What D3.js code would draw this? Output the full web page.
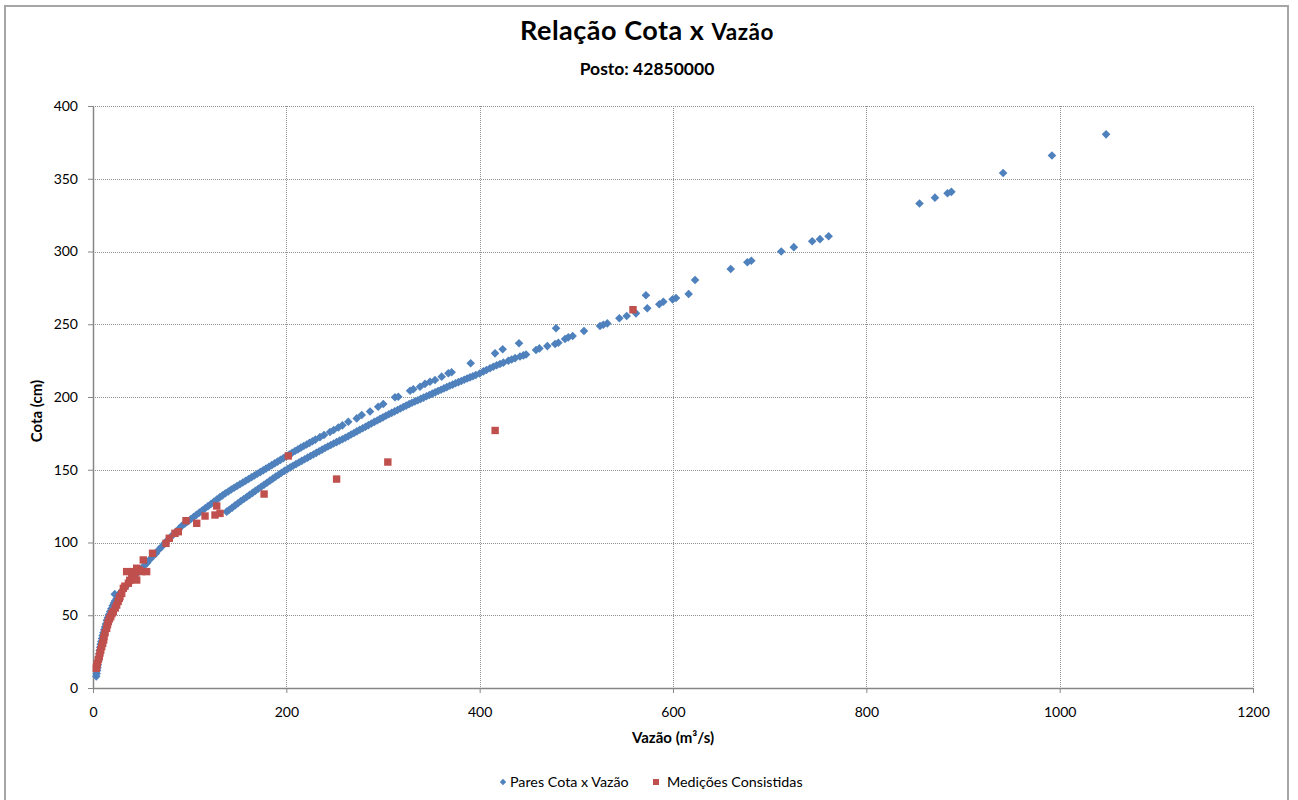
<!DOCTYPE html>
<html>
<head>
<meta charset="utf-8">
<script src="https://cdn.jsdelivr.net/npm/d3@7"></script>
<style>
  body { margin: 0; background: #fff; }
  svg { display: block; }
  text { font-family: Lato, "Open Sans", "DejaVu Sans", sans-serif; fill: #000; }
</style>
</head>
<body>
<svg id="chart" width="1298" height="800"></svg>
<script>
// Pares Cota x Vazão — ramo superior (vazão m³/s)
const paresSupVazao = [3.4,3.8,4.2,4.6,5,5.5,6,6.5,7,7.5,8,8.6,9.3,10,10.8,11.6,12.5,13.4,14.4,15.5,16.6,17.8,19,20.3,21.7,22.5,23,24.5,26,27.5,29,31,33,35,37,39.5,42,44.5,47,50,53,56,59,62,65,68,71,74,77,80,83,86,89,92,95,98,101,104,107,110,113,116,119,122,125,128,131,134,137,140,143,146,149,152,155,158,161,164,167,170,173,176,179,182,185,188,191,194,197,200,203,206,209,212,215,218,221,224,227,230,234.8,239,245.2,249,253.8,258,264.1,272.8,278,286.6,295,300.3,312.4,315.8,328,331.4,338.3,343.4,348.6,353.8,360.7,367.6,371,390.7,415.9,423.8,440.7,479,572,622.8];
// Pares Cota x Vazão — ramo superior (cota cm)
const paresSupCota = [8,10,12,14,16,18.5,21,23.5,26,28,30,32,34,36,38,40,42,44,46.5,48.5,50.5,52.5,54.5,56.5,58.5,64.5,60,61.5,63,64.5,66,67.5,69,70.5,72,74,76,78,80,82,84,86,88.5,90.5,92.5,95,97,99.5,101.5,103.5,105.5,107.5,109.5,111.5,113,114.5,116,117.5,119,120.5,122,123.5,125,126.5,128,129.5,131,132.4,133.8,135.1,136.4,137.6,138.8,140,141.2,142.4,143.6,144.8,146,147.2,148.4,149.6,150.8,152,153.2,154.4,155.6,156.8,158,159.3,160.5,161.7,162.9,164,165.2,166.3,167.4,168.5,169.6,170.7,172.4,173.9,175.9,177.3,179,180.5,183,185.3,187.6,190,193.3,195.2,199.8,200.2,204.3,205.3,207,209,210.5,211.7,214,216.3,217,223.2,230,232.8,236.9,247.2,269.9,280.4];

// Pares Cota x Vazão — ramo inferior (vazão m³/s)
const paresInfVazao = [138.3,141,144,147,150,153,156,159,162,165,168,171,174,177,180,183,186,189,192,195,198,201,204,207,210,213,216,219,222,225,228,231,234,237,240,243,246,249,252,255,258,261,264,267,270,273,276,279,282,285,288,291,294,297,300,303,306,309,312,315,318,321,324,327,330,333,336,339,342,345,348,351,354,357,360,363,366,369,372,375,378,381,384,387,390,393,396,400,403.8,407,410.7,414.1,417.6,421,424.5,429.7,433.1,436.6,441.7,445.2,448,458.3,461.8,470,478,481.4,488.3,491.7,496.2,507.9,524.5,527.9,532,544.5,552.1,561.7,573.4,585.8,590,599.6,603.1,616.2,659.7,676.9,681,712,725,744,752,761,855,871,884,888,941.5,992,1048];
// Pares Cota x Vazão — ramo inferior (cota cm)
const paresInfCota = [121.2,122.5,124,125.5,127,128.5,129.9,131.3,132.7,134.1,135.5,136.9,138.3,139.7,141.1,142.5,143.9,145.3,146.6,147.9,149.2,150.4,151.6,152.8,153.9,155,156.1,157.2,158.3,159.4,160.5,161.6,162.7,163.8,164.9,166,167,168,169,170,171,172,173,174.2,175.3,176.4,177.5,178.5,179.6,180.7,181.8,182.9,183.9,185,186,187.1,188.1,189.1,190.1,191.1,192.1,193.1,194.1,195.1,196,196.9,197.8,198.7,199.6,200.5,201.4,202.3,203.2,204.1,205,205.9,206.8,207.7,208.5,209.4,210.2,211,211.9,212.7,213.5,214.3,215.1,216.2,217.6,218.6,219.8,220.8,221.8,222.7,223.6,224.9,225.8,226.7,227.8,228.6,229.2,232.3,233.4,235,236.4,237.3,239.9,241,241.9,245.4,248.8,249.7,250.6,254.1,255.7,257.5,261,263.7,265.5,267.1,268,270.8,288,292.6,293.6,300,303,307,308.5,310.5,333,337,340,341,354,366,380.5];

// Medições Consistidas
const medicoesVazao = [3.4,3.8,4.5,5.5,6.5,7.2,8,9,10,11,11.4,12.5,14.1,15,15.9,17,18.3,19.5,21,23,24.5,26,27.2,27.9,29.7,31.4,33,34.8,36.6,38,40,41.7,43,45.2,45.2,48,50.3,52,55.5,61.6,75.5,78.9,84.8,88.3,96.2,107.3,115.9,126.2,128,131.4,177,202,252,305,416,558.6];
const medicoesCota = [13.5,15,17,19.5,21.5,24,26,28.5,30.7,33,35.3,38,41,43.5,45.6,47.5,49,51,52.4,55,57,59.5,61.6,62.8,65,68.5,70,80,72,74,76.5,80,78,74.2,82.3,81,80,88,80,92.6,99.4,102.9,106.3,107.4,115,113.2,118.2,118.9,125.1,120,133.3,159.5,143.6,155.3,177,260];

const xTicks = [0, 200, 400, 600, 800, 1000, 1200];
const yTicks = [0, 50, 100, 150, 200, 250, 300, 350, 400];

const blue = "#4F81BD";
const red = "#C0504D";

const svg = d3.select("#chart");
const plot = { left: 93, right: 1253, top: 106, bottom: 688 };

const x = d3.scaleLinear().domain([0, 1200]).range([plot.left, plot.right]);
const y = d3.scaleLinear().domain([0, 400]).range([plot.bottom, plot.top]);

// chart frame
svg.append("rect")
  .attr("x", 5).attr("y", 6).attr("width", 1283).attr("height", 800)
  .attr("fill", "#fff").attr("stroke", "#a6a6a6").attr("stroke-width", 2);

// titles
const title = svg.append("text")
  .attr("x", 647).attr("y", 40).attr("text-anchor", "middle")
  .style("font-weight", "bold").style("font-size", "27px").style("letter-spacing", "0.5px");
title.append("tspan").text("Relação Cota x ");
title.append("tspan").style("font-size", "22.5px").text("Vazão");

svg.append("text")
  .attr("x", 647).attr("y", 75).attr("text-anchor", "middle")
  .style("font-weight", "bold").style("font-size", "17.5px")
  .text("Posto: 42850000");

// gridlines
const grid = svg.append("g").attr("stroke", "#8f8f8f").attr("stroke-width", 1)
  .attr("stroke-dasharray", "1,1").attr("shape-rendering", "crispEdges");
grid.selectAll("line.gx").data(xTicks.filter(d => d > 0)).join("line")
  .attr("class", "gx")
  .attr("x1", d => Math.round(x(d)) + 0.5).attr("x2", d => Math.round(x(d)) + 0.5)
  .attr("y1", plot.top).attr("y2", plot.bottom);
grid.selectAll("line.gy").data(yTicks.filter(d => d > 0)).join("line")
  .attr("class", "gy")
  .attr("y1", d => Math.round(y(d)) + 0.5).attr("y2", d => Math.round(y(d)) + 0.5)
  .attr("x1", plot.left).attr("x2", plot.right);

// axes
const xAxis = svg.append("g")
  .attr("transform", `translate(0,${plot.bottom})`)
  .call(d3.axisBottom(x).tickValues(xTicks).tickSize(5).tickSizeOuter(0).tickPadding(14).tickFormat(d3.format("d")));
const yAxis = svg.append("g")
  .attr("transform", `translate(${plot.left},0)`)
  .call(d3.axisLeft(y).tickValues(yTicks).tickSize(5).tickSizeOuter(0).tickPadding(10).tickFormat(d3.format("d")));
[xAxis, yAxis].forEach(g => {
  g.select(".domain").attr("stroke", "#868686").attr("stroke-width", 1.5);
  g.selectAll(".tick line").attr("stroke", "#868686");
  g.selectAll(".tick text").style("font-size", "14px").style("font-family", "Lato, sans-serif").attr("fill", "#000");
});

// axis titles
svg.append("text")
  .attr("x", (plot.left + plot.right) / 2).attr("y", 743).attr("text-anchor", "middle")
  .style("font-weight", "bold").style("font-size", "15px")
  .text("Vazão (m³/s)");
svg.append("text")
  .attr("transform", `translate(42,${(plot.top + plot.bottom) / 2 + 14}) rotate(-90)`)
  .attr("text-anchor", "middle")
  .style("font-weight", "bold").style("font-size", "15px")
  .text("Cota (cm)");

// markers
const diamond = (cx, cy, r) => `M${cx},${cy - r}L${cx + r},${cy}L${cx},${cy + r}L${cx - r},${cy}Z`;

const paresData = paresSupVazao.map((q, i) => ({ q, h: paresSupCota[i] }))
  .concat(paresInfVazao.map((q, i) => ({ q, h: paresInfCota[i] })));
const medicoesData = medicoesVazao.map((q, i) => ({ q, h: medicoesCota[i] }));

svg.append("g").selectAll("path").data(paresData).join("path")
  .attr("d", d => diamond(x(d.q), y(d.h), 4.3))
  .attr("fill", blue);

svg.append("g").selectAll("rect").data(medicoesData).join("rect")
  .attr("x", d => x(d.q) - 3.7).attr("y", d => y(d.h) - 3.7)
  .attr("width", 7.4).attr("height", 7.4)
  .attr("fill", red);

// legend
const legend = svg.append("g").attr("transform", "translate(0,782)");
legend.append("path").attr("d", diamond(503, 0, 3.2)).attr("fill", blue);
legend.append("text").attr("x", 510).attr("y", 5).style("font-size", "14.3px").text("Pares Cota x Vazão");
legend.append("rect").attr("x", 653).attr("y", -3).attr("width", 6).attr("height", 6).attr("fill", red);
legend.append("text").attr("x", 667).attr("y", 5).style("font-size", "14.3px").text("Medições Consistidas");
</script>
</body>
</html>
